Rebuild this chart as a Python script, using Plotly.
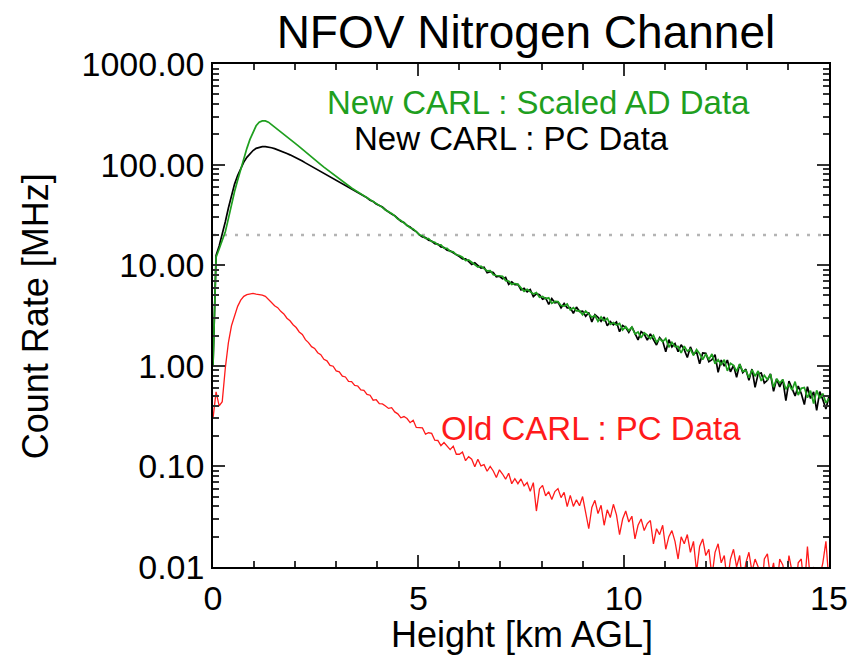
import plotly.graph_objects as go

# Range gates (km AGL), one every 75 m from 0 to 15 km
heights_km = [round(0.075 * i, 3) for i in range(201)]

new_carl_ad_scaled = [
    1.0, 12.0, 14.5, 17.5, 21.5, 29, 40, 54, 70, 90,
    115, 145, 178, 212, 243, 264, 272, 272, 264, 250,
    237, 224, 212, 201, 190, 179, 169, 160, 151, 142,
    134, 126.5, 119, 112.5, 106, 100, 94.5, 89.5, 85, 80.5,
    76, 72, 68, 65, 61.5, 58.5, 56, 53.5, 51.5, 49.5,
    46.5, 44.8, 42.5, 41.3, 39.5, 37.6, 35.3, 34.0, 32.6, 30.9,
    28.8, 27.8, 26.4, 25.3, 23.6, 22.9, 21.3, 20.1, 19.6, 18.5,
    18.4, 17.2, 16.9, 16.0, 15.9, 14.8, 14.7, 13.7, 13.6, 12.7,
    12.5, 12.0, 11.1, 11.3, 10.7, 10.08, 9.57, 9.77, 9.25, 8.79,
    8.84, 8.02, 7.9, 7.85, 7.77, 7.03, 6.97, 6.44, 6.57, 6.45,
    5.93, 5.5, 5.77, 5.48, 5.17, 5.34, 4.79, 4.88, 4.65, 4.74,
    4.17, 4.36, 4.34, 3.97, 3.93, 4.12, 3.59, 3.79, 3.52, 3.53,
    3.21, 3.51, 3.26, 3.04, 3.16, 2.76, 3.06, 2.8, 2.96, 2.58,
    2.69, 2.54, 2.64, 2.27, 2.45, 2.24, 2.43, 2.07, 2.17, 1.9,
    2.13, 2.02, 1.86, 2.01, 1.72, 1.86, 1.73, 1.87, 1.53, 1.71,
    1.55, 1.56, 1.34, 1.57, 1.4, 1.46, 1.27, 1.45, 1.32, 1.15,
    1.31, 1.16, 1.31, 1.05, 1.15, 1.03, 1.15, 0.89, 1.06, 1.01,
    0.88, 1.04, 0.88, 0.9, 0.76, 0.915, 0.788, 0.887, 0.708, 0.803,
    0.73, 0.827, 0.611, 0.744, 0.673, 0.731, 0.584, 0.653, 0.574, 0.696,
    0.512, 0.597, 0.608, 0.481, 0.566, 0.422, 0.57, 0.475, 0.529, 0.428,
    0.474,
]

new_carl_pc = [
    1.0, 12.5, 15.5, 20, 27, 37, 50, 64, 78, 92,
    106, 118, 129, 138, 145, 149, 151, 151, 150, 147,
    144, 140.5, 137, 133, 129, 125, 121, 117, 113, 108.5,
    104, 100, 96, 92, 88.5, 85, 81.5, 78, 75, 72,
    69.5, 66.5, 64, 61.5, 59.5, 57.3, 55.2, 53.0, 51.0, 49.0,
    46.8, 44.2, 42.9, 40.6, 39.2, 37.9, 35.6, 33.6, 32.2, 31.1,
    29.0, 27.4, 26.6, 24.8, 24.0, 22.5, 21.6, 20.0, 19.1, 18.8,
    17.7, 17.4, 16.4, 16.2, 15.2, 15.0, 14.1, 13.9, 13.3, 12.8,
    12.2, 11.57, 11.54, 10.93, 10.16, 10.56, 9.93, 9.35, 9.52, 8.42,
    8.64, 8.46, 7.65, 7.76, 7.33, 7.55, 6.44, 6.84, 6.42, 6.46,
    5.68, 5.88, 5.44, 5.72, 4.87, 5.2, 5.1, 4.59, 4.72, 4.07,
    4.65, 4.23, 4.3, 3.77, 4.17, 3.76, 3.79, 3.32, 3.84, 3.46,
    3.5, 3.11, 3.38, 2.73, 3.23, 3.04, 2.77, 3.05, 2.5, 2.75,
    2.56, 2.73, 2.18, 2.52, 2.4, 2.15, 2.44, 2.1, 1.81, 2.19,
    2.07, 1.8, 2.08, 1.82, 1.61, 1.91, 1.76, 1.38, 1.82, 1.54,
    1.66, 1.38, 1.62, 1.45, 1.21, 1.54, 1.3, 1.38, 1.05, 1.34,
    1.33, 1.1, 1.15, 1.29, 0.86, 1.14, 0.99, 1.14, 0.87, 1.01,
    0.77, 1.04, 0.855, 0.926, 0.72, 0.928, 0.61, 0.835, 0.848, 0.674,
    0.718, 0.829, 0.558, 0.738, 0.618, 0.728, 0.45, 0.705, 0.599, 0.502,
    0.63, 0.529, 0.412, 0.62, 0.473, 0.55, 0.36, 0.554, 0.461, 0.372,
    0.498,
]

old_carl_pc = [
    0.30, 0.55, 0.40, 0.44, 0.95, 1.7, 2.5, 3.2, 3.9, 4.5,
    4.9, 5.1, 5.2, 5.25, 5.15, 5.1, 5.05, 4.9, 4.6, 4.25,
    3.95, 3.78, 3.48, 3.28, 2.97, 2.8, 2.56, 2.4, 2.17, 2.05,
    1.82, 1.7, 1.55, 1.49, 1.35, 1.29, 1.16, 1.12, 1.01, 0.99,
    0.89, 0.87, 0.79, 0.775, 0.70, 0.695, 0.64, 0.63, 0.575, 0.57,
    0.52, 0.51, 0.455, 0.46, 0.42, 0.418, 0.399, 0.377, 0.383, 0.348,
    0.333, 0.304, 0.313, 0.299, 0.272, 0.288, 0.244, 0.242, 0.241, 0.209,
    0.216, 0.213, 0.182, 0.181, 0.161, 0.173, 0.161, 0.147, 0.159, 0.132,
    0.132, 0.139, 0.114, 0.125, 0.118, 0.099, 0.118, 0.101, 0.104, 0.0895,
    0.1, 0.09, 0.0774, 0.0926, 0.084, 0.0746, 0.0855, 0.0673, 0.0755, 0.0673,
    0.0751, 0.064, 0.0692, 0.0566, 0.069, 0.036, 0.0597, 0.0648, 0.051, 0.0561,
    0.0469, 0.0562, 0.0601, 0.0489, 0.0553, 0.0398, 0.0516, 0.04, 0.0465, 0.0406,
    0.0502, 0.036, 0.024, 0.039, 0.046, 0.034, 0.041, 0.026, 0.037, 0.031,
    0.042, 0.033, 0.021, 0.03, 0.036, 0.028, 0.032, 0.019, 0.026, 0.03,
    0.023, 0.027, 0.029, 0.017, 0.024, 0.021, 0.026, 0.015, 0.02, 0.023,
    0.018, 0.012, 0.02, 0.017, 0.021, 0.014, 0.018, 0.009, 0.016, 0.019,
    0.013, 0.015, 0.008, 0.014, 0.017, 0.011, 0.013, 0.007, 0.012, 0.015,
    0.01, 0.013, 0.0065, 0.011, 0.014, 0.009, 0.012, 0.01, 0.005, 0.012,
    0.0135, 0.008, 0.011, 0.006, 0.012, 0.0105, 0.007, 0.013, 0.009, 0.005,
    0.011, 0.012, 0.006, 0.016, 0.007, 0.01, 0.005, 0.008, 0.011, 0.018,
    0.007,
]

reference_level_mhz = 20
x_range_km = [0, 15]
x_tick_values = [0, 5, 10, 15]
x_tick_labels = ["0", "5", "10", "15"]
y_tick_values = [0.01, 0.1, 1, 10, 100, 1000]
y_tick_labels = ["0.01", "0.10", "1.00", "10.00", "100.00", "1000.00"]

GREEN = "#1f9f1f"
RED = "#ff1a1a"
FONT = "Liberation Sans"

fig = go.Figure()

fig.add_trace(go.Scatter(
    x=x_range_km, y=[reference_level_mhz, reference_level_mhz], mode="lines",
    line=dict(color="#b4b4b4", width=2.5, dash="3px,8px"), showlegend=False,
))
fig.add_trace(go.Scatter(
    x=heights_km, y=old_carl_pc, mode="lines",
    line=dict(color=RED, width=1.3), showlegend=False,
))
fig.add_trace(go.Scatter(
    x=heights_km, y=new_carl_pc, mode="lines",
    line=dict(color="black", width=1.7), showlegend=False,
))
fig.add_trace(go.Scatter(
    x=heights_km, y=new_carl_ad_scaled, mode="lines",
    line=dict(color=GREEN, width=1.7), showlegend=False,
))

axis_common = dict(
    showline=True, linecolor="black", linewidth=1.5, mirror="allticks",
    ticks="inside", ticklen=12, tickwidth=2, tickcolor="#333333",
    showgrid=False, zeroline=False,
    tickfont=dict(family=FONT, size=34, color="black"),
)

fig.update_xaxes(
    range=x_range_km, tickvals=x_tick_values, ticktext=x_tick_labels,
    minor=dict(dtick=1, ticks="inside", ticklen=6, tickwidth=1.6, tickcolor="#333333", showgrid=False),
    **axis_common,
)
fig.update_yaxes(
    type="log", range=[-2, 3], tickvals=y_tick_values, ticktext=y_tick_labels,
    minor=dict(dtick="D1", ticks="inside", ticklen=6, tickwidth=1.6, tickcolor="#333333", showgrid=False),
    **axis_common,
)

annotations = [
    dict(text="New CARL : Scaled AD Data", x=0.529, y=0.9225, color=GREEN),
    dict(text="New CARL : PC Data", x=0.484, y=0.851, color="black"),
    dict(text="Old CARL : PC Data", x=0.614, y=0.276, color=RED),
]
for a in annotations:
    fig.add_annotation(
        text=a["text"], x=a["x"], y=a["y"], xref="paper", yref="paper",
        xanchor="center", yanchor="middle", showarrow=False,
        font=dict(family=FONT, size=33, color=a["color"]),
    )

fig.add_annotation(
    text="Height [km AGL]", x=0.502, y=-0.135, xref="paper", yref="paper",
    xanchor="center", yanchor="middle", showarrow=False,
    font=dict(family=FONT, size=36, color="black"),
)
fig.add_annotation(
    text="Count Rate [MHz]", x=-0.2885, y=0.499, xref="paper", yref="paper",
    xanchor="center", yanchor="middle", showarrow=False, textangle=-90,
    font=dict(family=FONT, size=36, color="black"),
)

fig.update_layout(
    width=860, height=663,
    margin=dict(l=213, r=23, t=64, b=96),
    paper_bgcolor="white", plot_bgcolor="white",
    title=dict(text="NFOV Nitrogen Channel", x=0.508, xref="paper", xanchor="center",
               y=1 - 32 / 663, yref="container", yanchor="middle",
               font=dict(family=FONT, size=46, color="black")),
    showlegend=False,
)

fig.write_html("out.html", config={"displayModeBar": False},
               post_script="document.body.style.margin='0';")
